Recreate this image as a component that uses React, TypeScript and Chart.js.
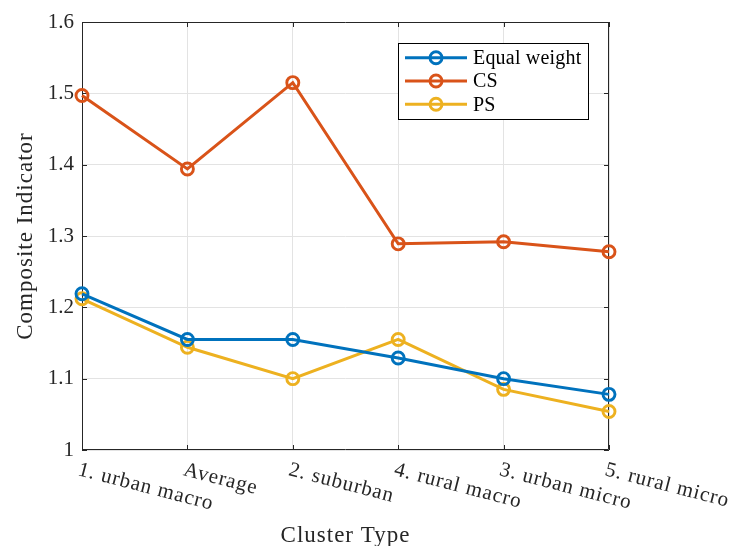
import React, { useEffect, useRef } from "react";
import { Chart, registerables } from "chart.js";

Chart.register(...registerables);

const categories = [
  "1. urban macro",
  "Average",
  "2. suburban",
  "4. rural macro",
  "3. urban micro",
  "5. rural micro",
];
const equalWeight = [1.219, 1.155, 1.155, 1.129, 1.1, 1.078];
const csValues = [1.497, 1.394, 1.515, 1.289, 1.292, 1.278];
const psValues = [1.212, 1.144, 1.1, 1.155, 1.085, 1.054];
const seriesNames = ["Equal weight", "CS", "PS"];
const seriesColors = ["#0072BD", "#D95319", "#EDB120"];
const yMin = 1;
const yMax = 1.6;
const yStep = 0.1;
const xTitle = "Cluster Type";
const yTitle = "Composite Indicator";

const SERIF = '"Liberation Serif", "Times New Roman", serif';
const AXIS_COLOR = "#262626";

const decorPlugin = {
  id: "matlabDecor",
  beforeDatasetsDraw(chart: any) {
    const { ctx, chartArea } = chart;
    const { left, right, top, bottom } = chartArea;
    const xs = chart.scales.x;
    const ys = chart.scales.y;
    ctx.save();
    ctx.strokeStyle = AXIS_COLOR;
    ctx.lineWidth = 1;
    ctx.beginPath();
    ctx.rect(left + 0.5, top + 0.5, right - left - 1, bottom - top - 1);
    ctx.stroke();
    const tl = 5;
    ctx.beginPath();
    categories.forEach((_, i) => {
      const x = Math.round(xs.getPixelForValue(i)) + 0.5;
      ctx.moveTo(x, bottom);
      ctx.lineTo(x, bottom - tl);
      ctx.moveTo(x, top);
      ctx.lineTo(x, top + tl);
    });
    ys.ticks.forEach((t: any) => {
      const y = Math.round(ys.getPixelForValue(t.value)) + 0.5;
      ctx.moveTo(left, y);
      ctx.lineTo(left + tl, y);
      ctx.moveTo(right, y);
      ctx.lineTo(right - tl, y);
    });
    ctx.stroke();
    ctx.restore();
  },
  afterDraw(chart: any) {
    const { ctx, chartArea } = chart;
    const { left, right, top, bottom } = chartArea;
    const xs = chart.scales.x;
    ctx.save();
    ctx.fillStyle = AXIS_COLOR;

    // rotated x tick labels
    ctx.font = `21px ${SERIF}`;
    (ctx as any).letterSpacing = "0.9px";
    ctx.textAlign = "left";
    ctx.textBaseline = "alphabetic";
    categories.forEach((c, i) => {
      const x = xs.getPixelForValue(i);
      ctx.save();
      ctx.translate(x - 5, bottom + 25);
      ctx.rotate((14.5 * Math.PI) / 180);
      ctx.fillText(c, 0, 0);
      ctx.restore();
    });

    // axis titles
    ctx.font = `23px ${SERIF}`;
    (ctx as any).letterSpacing = "1px";
    ctx.textAlign = "center";
    ctx.textBaseline = "alphabetic";
    ctx.fillText(xTitle, (left + right) / 2, 542);
    ctx.save();
    ctx.translate(32, (top + bottom) / 2);
    ctx.rotate(-Math.PI / 2);
    ctx.fillText(yTitle, 0, 0);
    ctx.restore();

    // legend
    const bw = 190;
    const bh = 76;
    const bx = right - 21 - bw;
    const by = top + 21;
    ctx.fillStyle = "#ffffff";
    ctx.fillRect(bx, by, bw, bh);
    ctx.strokeStyle = "#000000";
    ctx.lineWidth = 1;
    ctx.strokeRect(bx + 0.5, by + 0.5, bw, bh);
    ctx.font = `20px ${SERIF}`;
    (ctx as any).letterSpacing = "0.2px";
    ctx.textAlign = "left";
    ctx.textBaseline = "middle";
    seriesNames.forEach((name, i) => {
      const y = by + 14.7 + i * 23.3;
      ctx.strokeStyle = seriesColors[i];
      ctx.lineWidth = 3;
      ctx.beginPath();
      ctx.moveTo(bx + 7, y);
      ctx.lineTo(bx + 69, y);
      ctx.stroke();
      ctx.lineWidth = 2.9;
      ctx.beginPath();
      ctx.arc(bx + 38, y, 6, 0, Math.PI * 2);
      ctx.stroke();
      ctx.fillStyle = "#000000";
      ctx.fillText(name, bx + 75, y + 1);
    });
    ctx.restore();
  },
};

export default function App() {
  const canvasRef = useRef<HTMLCanvasElement | null>(null);

  useEffect(() => {
    document.body.style.margin = "0";
    const canvas = canvasRef.current;
    if (!canvas) return;
    const seriesData = [equalWeight, csValues, psValues];
    const chart = new Chart(canvas, {
      type: "line",
      data: {
        labels: categories,
        datasets: seriesData.map((d, i) => ({
          label: seriesNames[i],
          data: d,
          borderColor: seriesColors[i],
          backgroundColor: "rgba(0,0,0,0)",
          borderWidth: 3,
          pointRadius: 6,
          pointBorderWidth: 2.9,
          pointBorderColor: seriesColors[i],
          pointBackgroundColor: "rgba(0,0,0,0)",
          tension: 0,
          clip: false as any,
        })),
      },
      options: {
        animation: false,
        responsive: false,
        devicePixelRatio: 1,
        layout: { padding: { top: 22, right: 124, left: 0, bottom: 0 } },
        plugins: {
          legend: { display: false },
          tooltip: { enabled: false },
        },
        scales: {
          x: {
            type: "category",
            offset: false,
            grid: { color: "#e3e3e3", lineWidth: 1, drawTicks: false },
            border: { display: false },
            ticks: { display: false },
            afterFit: (s: any) => {
              s.height = 96;
            },
          },
          y: {
            min: yMin,
            max: yMax,
            grid: { color: "#e3e3e3", lineWidth: 1, drawTicks: false },
            border: { display: false },
            ticks: {
              stepSize: yStep,
              padding: 8,
              color: AXIS_COLOR,
              font: { family: SERIF, size: 21 },
              callback: (v: any) => String(Math.round(Number(v) * 10) / 10),
            },
            afterFit: (s: any) => {
              s.width = 82;
            },
          },
        },
      },
      plugins: [decorPlugin],
    });
    return () => chart.destroy();
  }, []);

  return (
    <div style={{ position: "absolute", left: 0, top: 0, width: 733, height: 546, background: "#ffffff" }}>
      <canvas ref={canvasRef} width={733} height={546} style={{ display: "block" }} />
    </div>
  );
}
